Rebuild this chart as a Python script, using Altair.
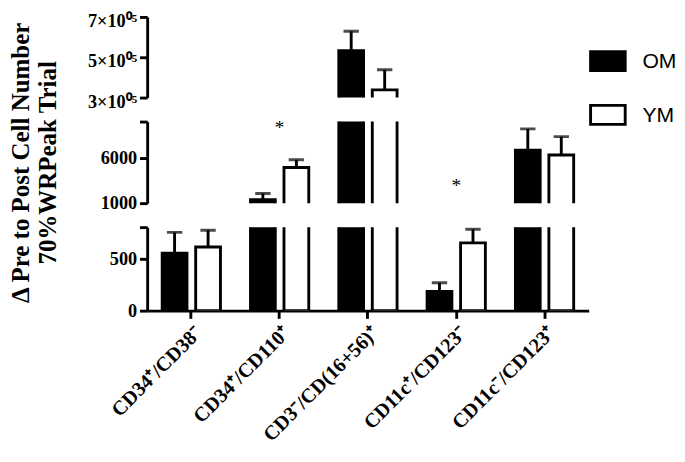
import altair as alt
import pandas as pd

categories = ["CD34⁺/CD38⁻", "CD34⁺/CD110⁺", "CD3⁻/CD(16+56)⁺", "CD11c⁺/CD123⁻", "CD11c⁻/CD123⁺"]
groups = ["OM", "YM"]
om_mean = [550, 1390, 533000, 185, 6850]
om_err = [200, 670, 96000, 83, 2340]
ym_mean = [610, 4940, 338000, 650, 6320]
ym_err = [160, 850, 100000, 130, 2020]

star_categories = ["CD34⁺/CD110⁺", "CD11c⁺/CD123⁻"]
star_values = [9300, 2900]

y_title = ["Δ Pre to Post Cell Number", "70%WRPeak Trial"]

rows = []
for i, c in enumerate(categories):
    rows.append(dict(cat=c, group="OM", mean=om_mean[i], top=om_mean[i] + om_err[i], base=0))
    rows.append(dict(cat=c, group="YM", mean=ym_mean[i], top=ym_mean[i] + ym_err[i], base=0))
df = pd.DataFrame(rows)
stars = pd.DataFrame(dict(cat=star_categories, v=star_values, t=["*", "*"]))

SERIF = "Liberation Serif"


def panel(domain, ticks, label_expr, height, show_x=False, title=None, show_legend=False, label_offset=0):
    if show_x:
        xaxis = alt.Axis(title=None, labelAngle=315, labelFontSize=21, labelPadding=4)
    else:
        xaxis = None
    x_enc = alt.X("cat:N", sort=categories, scale=alt.Scale(paddingInner=0.34, paddingOuter=0.17), axis=xaxis)
    xo = alt.XOffset("group:N", sort=groups, scale=alt.Scale(paddingInner=0.26, paddingOuter=0))
    y_scale = alt.Scale(domain=domain, zero=False, nice=False)
    ax_kw = dict(values=ticks, labelExpr=label_expr, labelOffset=label_offset)
    if title is not None:
        ax_kw.update(title=title, titleFont=SERIF, titleFontWeight="bold", titleFontSize=26,
                     titlePadding=42, titleColor="black", titleLineHeight=28)
    else:
        ax_kw.update(title=None)
    axis = alt.Axis(**ax_kw)

    def Y(field):
        return alt.Y(field, type="quantitative", scale=y_scale, axis=axis)

    if show_legend:
        legend = alt.Legend(title=None, orient="none", legendX=460, legendY=26,
                            symbolType="M-1,-0.55L1,-0.55L1,0.55L-1,0.55Z", symbolSize=1300,
                            symbolStrokeWidth=3, symbolStrokeColor="black",
                            labelFont="Liberation Sans", labelFontSize=22, labelColor="black",
                            labelOffset=16, rowPadding=20)
    else:
        legend = None

    base = alt.Chart(df).encode(x=x_enc, xOffset=xo)
    bars = base.mark_bar(clip=True, stroke="black", strokeWidth=3).encode(
        y=Y("mean"), y2=alt.Y2("base:Q"),
        fill=alt.Fill("group:N", sort=groups,
                      scale=alt.Scale(domain=groups, range=["black", "white"]), legend=legend),
    )
    rules = base.mark_rule(clip=True, strokeWidth=3, color="black").encode(y=Y("mean"), y2=alt.Y2("top:Q"))
    caps = base.mark_tick(clip=True, size=16, thickness=3, color="black").encode(y=Y("top"))
    layers = [bars, rules, caps]
    if title is not None:
        txt = alt.Chart(stars).mark_text(font=SERIF, fontSize=20, color="black", baseline="middle").encode(
            x=alt.X("cat:N", sort=categories), y=Y("v"), text="t:N")
        layers.append(txt)
    return alt.layer(*layers).properties(width=460, height=height)


top = panel([300000, 700000], [300000, 500000, 700000],
            "format(datum.value/100000,'d') + '×10⁰⁵'", 84, show_legend=True, label_offset=4)
mid = panel([1000, 10000], [1000, 6000, 10000],
            "datum.value == 10000 ? '' : format(datum.value,'d')", 85, title=y_title)
bot = panel([0, 800], [0, 500, 800],
            "datum.value == 800 ? '' : format(datum.value,'d')", 87, show_x=True)

chart = alt.vconcat(top, mid, bot, spacing=25, bounds="flush").properties(
    padding={"left": 0, "top": -5, "right": 0, "bottom": 0}
).configure_view(
    stroke=None
).configure_axis(
    domainWidth=3, domainColor="black", tickWidth=3, tickColor="black", tickSize=8,
    labelFont=SERIF, labelFontWeight="bold", labelFontSize=19, labelColor="black",
    grid=False, labelPadding=3,
)

chart.save("out.html", embed_options={"renderer": "svg", "actions": False})
